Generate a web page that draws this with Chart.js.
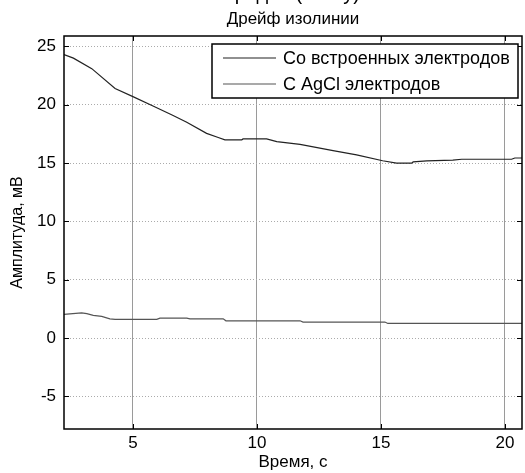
<!DOCTYPE html>
<html>
<head>
<meta charset="utf-8">
<script src="https://cdn.jsdelivr.net/npm/chart.js@4"></script>
<style>
  html, body { margin: 0; padding: 0; background: #fff; overflow: hidden; }
  #wrap { width: 525px; height: 473px; }
</style>
</head>
<body>
<div id="wrap"><canvas id="drift" width="525" height="473"></canvas></div>
<script>
// Данные
const timeBuiltIn = [2.22, 2.6, 3.34, 4.28, 5.0, 5.81, 6.6, 7.17, 7.97, 8.44, 8.71, 9.39, 9.44, 10.39, 10.8, 11.74, 13.07, 14.02, 15.07, 15.63, 16.24, 16.3, 16.85, 17.9, 18.26, 20.27, 20.4, 20.69];
const ampBuiltIn  = [24.3, 24.0, 23.1, 21.4, 20.7, 19.9, 19.1, 18.5, 17.55, 17.2, 17.0, 17.0, 17.07, 17.07, 16.84, 16.6, 16.07, 15.7, 15.2, 15.0, 15.0, 15.1, 15.19, 15.25, 15.33, 15.33, 15.44, 15.44];

const timeAgCl = [2.22, 2.93, 3.14, 3.4, 3.74, 4.07, 4.28, 5.96, 6.09, 7.17, 7.3, 8.64, 8.75, 11.74, 11.86, 15.16, 15.28, 20.69];
const ampAgCl  = [2.03, 2.16, 2.1, 1.94, 1.85, 1.65, 1.6, 1.6, 1.71, 1.71, 1.65, 1.65, 1.48, 1.48, 1.37, 1.37, 1.25, 1.25];

const seriesNames = ['Со встроенных электродов', 'С AgCl электродов'];
const xTicks = [5, 10, 15, 20];
const yTicks = [-5, 0, 5, 10, 15, 20, 25];

const FONT = '"Liberation Sans", Arial, sans-serif';

const toPoints = (xs, ys) => xs.map((x, i) => ({ x: x, y: ys[i] }));

// рамка осей, внутренние засечки, заголовки и легенда в стиле MATLAB
const matlabFrame = {
  id: 'matlabFrame',
  afterDraw(chart) {
    const ctx = chart.ctx;
    const a = chart.chartArea;
    const xs = chart.scales.x;
    const ys = chart.scales.y;
    ctx.save();

    // засечки внутрь
    ctx.strokeStyle = '#000';
    ctx.lineWidth = 1;
    const t = 5;
    xTicks.forEach(v => {
      const px = Math.round(xs.getPixelForValue(v)) + 0.5;
      ctx.beginPath();
      ctx.moveTo(px, a.bottom); ctx.lineTo(px, a.bottom - t);
      ctx.moveTo(px, a.top); ctx.lineTo(px, a.top + t);
      ctx.stroke();
    });
    yTicks.forEach(v => {
      const py = Math.round(ys.getPixelForValue(v)) + 0.5;
      ctx.beginPath();
      ctx.moveTo(a.left, py); ctx.lineTo(a.left + t, py);
      ctx.moveTo(a.right, py); ctx.lineTo(a.right - t, py);
      ctx.stroke();
    });

    // рамка
    ctx.lineWidth = 1.5;
    ctx.strokeRect(a.left, a.top, a.right - a.left, a.bottom - a.top);

    // заголовки (верхняя строка обрезана краем, как на исходнике)
    const cx = (a.left + a.right) / 2;
    ctx.fillStyle = '#000';
    ctx.textAlign = 'center';
    ctx.textBaseline = 'alphabetic';
    ctx.font = '20px ' + FONT;
    ctx.fillText('электродов (снизу)', cx - 21, 0);
    ctx.font = '17px ' + FONT;
    ctx.fillText('Дрейф изолинии', cx, 24);

    // легенда
    const lx = a.left + 148, ly = a.top + 8, lw = a.right - 4 - lx, lh = 54;
    ctx.fillStyle = '#fff';
    ctx.fillRect(lx, ly, lw, lh);
    ctx.lineWidth = 1.5;
    ctx.strokeStyle = '#000';
    ctx.strokeRect(lx, ly, lw, lh);
    ctx.font = '18px ' + FONT;
    ctx.textAlign = 'left';
    ctx.textBaseline = 'middle';
    chart.data.datasets.forEach((ds, i) => {
      const yy = ly + 14 + i * 26;
      ctx.strokeStyle = ds.borderColor;
      ctx.lineWidth = 1.2;
      ctx.beginPath();
      ctx.moveTo(lx + 11, yy); ctx.lineTo(lx + 64, yy);
      ctx.stroke();
      ctx.fillStyle = '#000';
      ctx.fillText(ds.label, lx + 71, yy + 1);
    });
    ctx.restore();
  }
};

new Chart(document.getElementById('drift'), {
  type: 'line',
  data: {
    datasets: [
      {
        label: seriesNames[0],
        data: toPoints(timeBuiltIn, ampBuiltIn),
        borderColor: '#222',
        borderWidth: 1.2,
        pointRadius: 0,
        tension: 0,
        fill: false,
      },
      {
        label: seriesNames[1],
        data: toPoints(timeAgCl, ampAgCl),
        borderColor: '#555',
        borderWidth: 1.2,
        pointRadius: 0,
        tension: 0,
        fill: false,
      },
    ],
  },
  options: {
    responsive: false,
    animation: false,
    layout: { padding: { top: 36, right: 3, left: 0, bottom: 0 } },
    plugins: {
      legend: { display: false },
      title: { display: false },
      tooltip: { enabled: false },
    },
    scales: {
      x: {
        type: 'linear',
        min: 2.22,
        max: 20.69,
        afterFit: s => { s.height = 44; },
        afterBuildTicks: s => { s.ticks = xTicks.map(v => ({ value: v })); },
        grid: { color: '#9a9a9a', lineWidth: 1, drawTicks: false },
        border: { display: false },
        ticks: { color: '#000', font: { family: FONT, size: 17 }, padding: 4 },
        title: { display: true, text: 'Время, с', color: '#000', font: { family: FONT, size: 17 }, padding: { top: 0, bottom: 0 } },
      },
      y: {
        type: 'linear',
        min: -7.8,
        max: 25.9,
        afterFit: s => { s.width = 64; },
        afterBuildTicks: s => { s.ticks = yTicks.map(v => ({ value: v })); },
        grid: { color: '#ababab', lineWidth: 1, drawTicks: false },
        border: { display: false, dash: [1, 2] },
        ticks: { color: '#000', font: { family: FONT, size: 17 }, padding: 8 },
        title: { display: true, text: 'Амплитуда, мВ', color: '#000', font: { family: FONT, size: 16 }, padding: { top: 8, bottom: 0 } },
      },
    },
  },
  plugins: [matlabFrame],
});
</script>
</body>
</html>
